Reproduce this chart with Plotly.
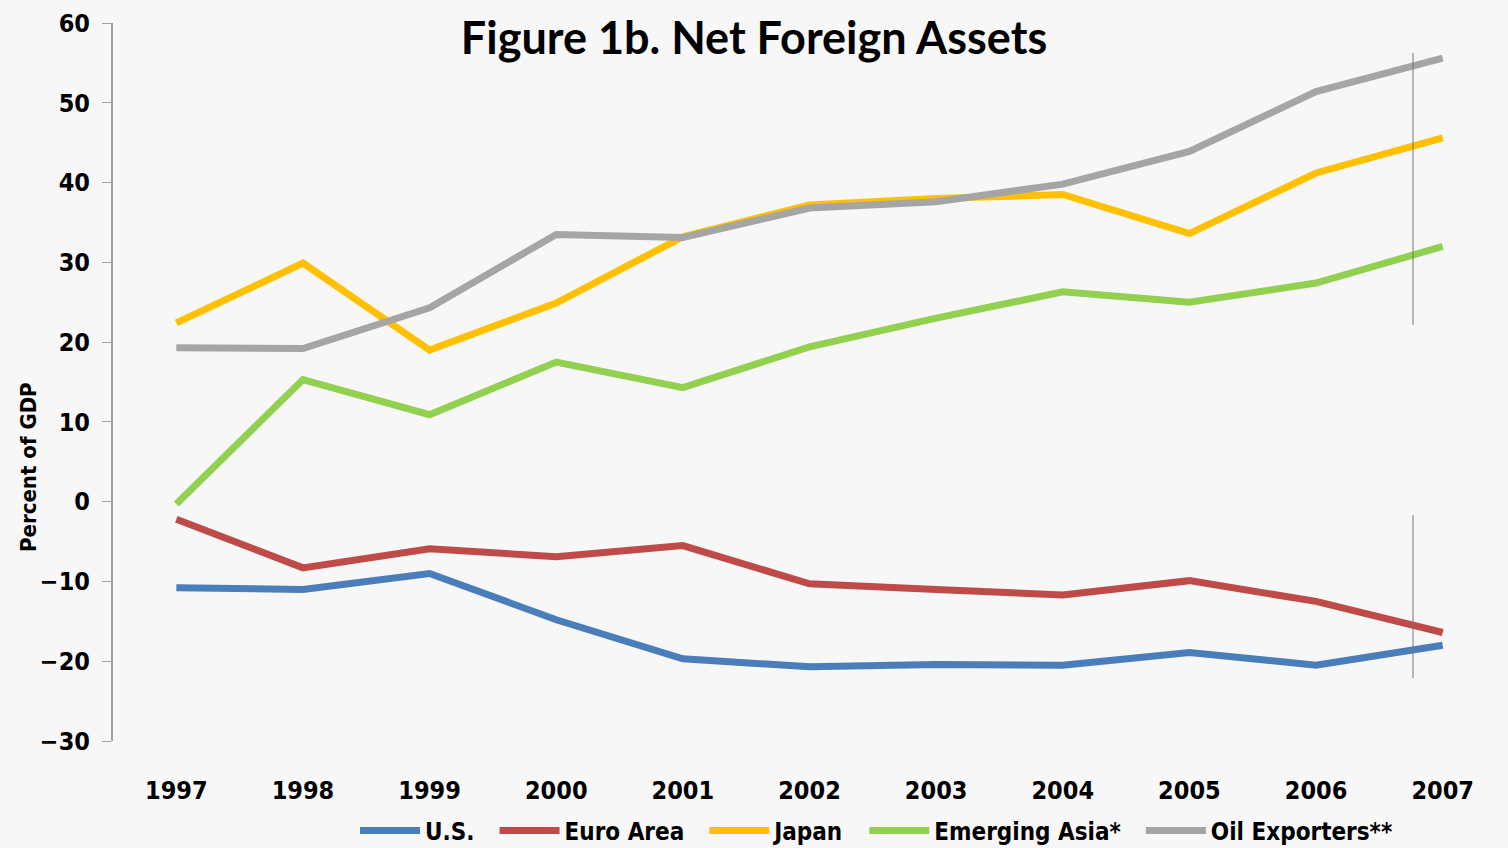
import plotly.graph_objects as go

years = [1997, 1998, 1999, 2000, 2001, 2002, 2003, 2004, 2005, 2006, 2007]
us = [-10.8, -11.0, -9.0, -14.8, -19.7, -20.7, -20.4, -20.5, -18.9, -20.5, -18.0]
euro_area = [-2.2, -8.3, -5.9, -6.9, -5.5, -10.3, -11.0, -11.7, -9.9, -12.5, -16.4]
japan = [22.4, 29.9, 19.0, 24.9, 33.2, 37.2, 38.0, 38.5, 33.6, 41.2, 45.6]
emerging_asia = [-0.3, 15.3, 10.9, 17.5, 14.3, 19.4, 23.0, 26.3, 25.0, 27.4, 32.0]
oil_exporters = [19.3, 19.2, 24.3, 33.5, 33.1, 36.8, 37.6, 39.8, 43.9, 51.4, 55.6]
year_labels = [str(y) for y in years]
y_ticks = [-30, -20, -10, 0, 10, 20, 30, 40, 50, 60]

series = [
    ("U.S.", us, "#4A7EBB"),
    ("Euro Area", euro_area, "#BE4B48"),
    ("Japan", japan, "#FFC000"),
    ("Emerging Asia*", emerging_asia, "#92D050"),
    ("Oil Exporters**", oil_exporters, "#A5A5A5"),
]

FONT = "DejaVu Sans Condensed, Lato, sans-serif"
fig = go.Figure()
for name, vals, col in series:
    fig.add_trace(go.Scatter(x=years, y=vals, name=name + "\u00a0\u00a0", mode="lines",
                             line=dict(color=col, width=7)))

fig.update_layout(
    width=1508, height=848,
    paper_bgcolor="#F7F7F7", plot_bgcolor="#F7F7F7",
    margin=dict(l=113, r=2, t=23, b=107, autoexpand=False),
    title=dict(text="Figure 1b. Net Foreign Assets", x=0.5, xanchor="center",
               y=1 - 38 / 848, yanchor="middle", yref="container",
               font=dict(family="Lato", size=45, color="black", weight="bold")),
    xaxis=dict(range=[1996.5, 2007.5], tickvals=years, ticktext=year_labels,
               showgrid=False, zeroline=False, showline=False,
               ticks="outside", ticklen=27, tickcolor="rgba(0,0,0,0)",
               tickfont=dict(family=FONT, size=25, color="black", weight="bold")),
    xaxis2=dict(range=[1996.5, 2007.5], overlaying="x", anchor="free", position=1 / 3,
                side="bottom", showgrid=False, zeroline=False, showline=True,
                linecolor="#8C8C8C", linewidth=2,
                tickvals=[y + 0.5 for y in [1996] + years], ticks="outside",
                ticklen=8, tickcolor="#8C8C8C", tickwidth=1.5, showticklabels=False),
    yaxis=dict(range=[-30, 60], tickvals=y_ticks, showgrid=False, zeroline=False,
               showline=True, linecolor="#A0A0A0", linewidth=2,
               ticks="outside", ticklen=9, tickcolor="#A0A0A0", ticklabelstandoff=7,
               tickfont=dict(family=FONT, size=25, color="black", weight="bold")),
    legend=dict(orientation="h", x=(355 - 113) / 1393, xanchor="left",
                y=(741 - 831) / 718, yanchor="middle",
                font=dict(family=FONT, size=24, color="black", weight="bold"),
                bgcolor="rgba(0,0,0,0)", itemwidth=60, tracegroupgap=0),
    showlegend=True,
)

fig.add_annotation(text="Percent of GDP", textangle=-90, xref="paper", yref="paper",
                   x=(28 - 113) / 1393, y=(741 - 467) / 718, xanchor="center",
                   yanchor="middle", showarrow=False,
                   font=dict(family=FONT, size=22, color="black", weight="bold"))

# thin vertical marks present in the original image
for y0, y1 in [(53, 325), (515, 678)]:
    fig.add_shape(type="line", xref="paper", yref="paper",
                  x0=(1413 - 113) / 1393, x1=(1413 - 113) / 1393,
                  y0=(741 - y1) / 718, y1=(741 - y0) / 718,
                  line=dict(color="#777777", width=1))

fig.write_html("out.html", config={"displayModeBar": False},
               post_script="document.body.style.margin='0';")
